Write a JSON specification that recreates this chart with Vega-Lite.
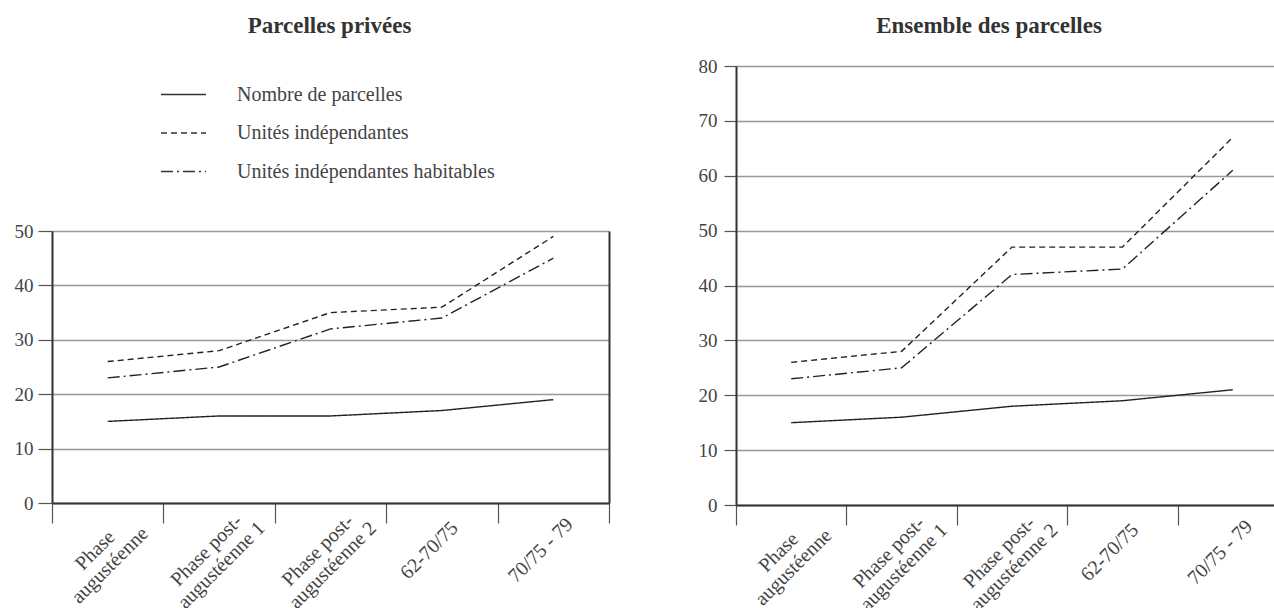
{
  "$schema": "https://vega.github.io/schema/vega-lite/v6.json",
  "padding": {"left": 14, "top": 15, "right": 0, "bottom": 0},
  "background": "white",
  "spacing": 88,
  "datasets": {
    "privees": [
      {"phase": "Phase augustéenne", "serie": "Nombre de parcelles", "value": 15},
      {"phase": "Phase post-augustéenne 1", "serie": "Nombre de parcelles", "value": 16},
      {"phase": "Phase post-augustéenne 2", "serie": "Nombre de parcelles", "value": 16},
      {"phase": "62-70/75", "serie": "Nombre de parcelles", "value": 17},
      {"phase": "70/75 - 79", "serie": "Nombre de parcelles", "value": 19},
      {"phase": "Phase augustéenne", "serie": "Unités indépendantes", "value": 26},
      {"phase": "Phase post-augustéenne 1", "serie": "Unités indépendantes", "value": 28},
      {"phase": "Phase post-augustéenne 2", "serie": "Unités indépendantes", "value": 35},
      {"phase": "62-70/75", "serie": "Unités indépendantes", "value": 36},
      {"phase": "70/75 - 79", "serie": "Unités indépendantes", "value": 49},
      {"phase": "Phase augustéenne", "serie": "Unités indépendantes habitables", "value": 23},
      {"phase": "Phase post-augustéenne 1", "serie": "Unités indépendantes habitables", "value": 25},
      {"phase": "Phase post-augustéenne 2", "serie": "Unités indépendantes habitables", "value": 32},
      {"phase": "62-70/75", "serie": "Unités indépendantes habitables", "value": 34},
      {"phase": "70/75 - 79", "serie": "Unités indépendantes habitables", "value": 45}
    ],
    "ensemble": [
      {"phase": "Phase augustéenne", "serie": "Nombre de parcelles", "value": 15},
      {"phase": "Phase post-augustéenne 1", "serie": "Nombre de parcelles", "value": 16},
      {"phase": "Phase post-augustéenne 2", "serie": "Nombre de parcelles", "value": 18},
      {"phase": "62-70/75", "serie": "Nombre de parcelles", "value": 19},
      {"phase": "70/75 - 79", "serie": "Nombre de parcelles", "value": 21},
      {"phase": "Phase augustéenne", "serie": "Unités indépendantes", "value": 26},
      {"phase": "Phase post-augustéenne 1", "serie": "Unités indépendantes", "value": 28},
      {"phase": "Phase post-augustéenne 2", "serie": "Unités indépendantes", "value": 47},
      {"phase": "62-70/75", "serie": "Unités indépendantes", "value": 47},
      {"phase": "70/75 - 79", "serie": "Unités indépendantes", "value": 67},
      {"phase": "Phase augustéenne", "serie": "Unités indépendantes habitables", "value": 23},
      {"phase": "Phase post-augustéenne 1", "serie": "Unités indépendantes habitables", "value": 25},
      {"phase": "Phase post-augustéenne 2", "serie": "Unités indépendantes habitables", "value": 42},
      {"phase": "62-70/75", "serie": "Unités indépendantes habitables", "value": 43},
      {"phase": "70/75 - 79", "serie": "Unités indépendantes habitables", "value": 61}
    ]
  },
  "config": {
    "view": {"stroke": null},
    "font": "Liberation Serif",
    "title": {"font": "Liberation Serif", "fontSize": 23, "fontWeight": "bold", "color": "#333", "anchor": "middle"},
    "axis": {
      "labelFont": "Liberation Serif",
      "labelColor": "#444",
      "title": null,
      "domainColor": "#333",
      "domainWidth": 2,
      "tickColor": "#555",
      "tickWidth": 1.2,
      "gridColor": "#999",
      "gridWidth": 1.4
    }
  },
  "resolve": {"legend": {"strokeDash": "independent"}},
  "hconcat": [
    {
      "width": 557,
      "height": 437,
      "title": {"text": "Parcelles privées", "offset": 28, "dx": -1},
      "data": {"name": "privees"},
      "resolve": {"axis": {"y": "independent"}},
      "layer": [
        {
          "mark": {"type": "line", "interpolate": "linear", "color": "#222", "strokeWidth": 1.4},
          "encoding": {
            "x": {
              "field": "phase", "type": "nominal", "bandPosition": 0.5,
              "sort": ["Phase augustéenne", "Phase post-augustéenne 1", "Phase post-augustéenne 2", "62-70/75", "70/75 - 79"],
              "scale": {"type": "band", "paddingInner": 0, "paddingOuter": 0},
              "axis": {
                "labelAngle": -45, "labelAlign": "center", "labelBaseline": "middle",
                "labelFontSize": 20, "labelLineHeight": 21,
                "tickBand": "extent", "tickSize": 20, "labelPadding": 27, "labelOffset": -13,
                "labelExpr": "datum.value == 'Phase augustéenne' ? ['Phase', 'augustéenne'] : datum.value == 'Phase post-augustéenne 1' ? ['Phase post-', 'augustéenne 1'] : datum.value == 'Phase post-augustéenne 2' ? ['Phase post-', 'augustéenne 2'] : datum.value"
              }
            },
            "y": {
              "field": "value", "type": "quantitative",
              "scale": {"domain": [0, 50], "nice": false, "range": [437, 165]},
              "axis": {"values": [0, 10, 20, 30, 40, 50], "tickSize": 14, "labelPadding": 5, "labelFontSize": 19, "grid": true}
            },
            "strokeDash": {
              "field": "serie", "type": "nominal",
              "scale": {"domain": ["Nombre de parcelles", "Unités indépendantes", "Unités indépendantes habitables"], "range": [[1, 0], [6, 4], [12, 4, 2, 4]]},
              "legend": {
                "orient": "none", "legendX": 108, "legendY": 5, "title": null,
                "symbolType": "stroke", "symbolSize": 2025, "symbolStrokeWidth": 1.3, "symbolStrokeColor": "#333",
                "labelFont": "Liberation Serif", "labelFontSize": 20, "labelColor": "#444", "labelLimit": 500,
                "labelOffset": 30, "rowPadding": 4.5
              }
            }
          }
        },
        {
          "mark": {"type": "line", "strokeOpacity": 0},
          "encoding": {
            "x": {"field": "phase", "type": "nominal", "bandPosition": 0.5,
                  "sort": ["Phase augustéenne", "Phase post-augustéenne 1", "Phase post-augustéenne 2", "62-70/75", "70/75 - 79"]},
            "y": {"field": "value", "type": "quantitative",
                  "axis": {"orient": "right", "labels": false, "ticks": false, "grid": false, "domain": true}},
            "detail": {"field": "serie"}
          }
        }
      ]
    },
    {
      "width": 552,
      "height": 439,
      "title": {"text": "Ensemble des parcelles", "offset": 19, "dx": -23},
      "data": {"name": "ensemble"},
      "mark": {"type": "line", "interpolate": "linear", "color": "#222", "strokeWidth": 1.4},
      "encoding": {
        "x": {
          "field": "phase", "type": "nominal", "bandPosition": 0.5,
          "sort": ["Phase augustéenne", "Phase post-augustéenne 1", "Phase post-augustéenne 2", "62-70/75", "70/75 - 79"],
          "scale": {"type": "band", "paddingInner": 0, "paddingOuter": 0},
          "axis": {
            "labelAngle": -45, "labelAlign": "center", "labelBaseline": "middle",
            "labelFontSize": 20, "labelLineHeight": 21,
            "tickBand": "extent", "tickSize": 20, "labelPadding": 27, "labelOffset": -13,
            "labelExpr": "datum.value == 'Phase augustéenne' ? ['Phase', 'augustéenne'] : datum.value == 'Phase post-augustéenne 1' ? ['Phase post-', 'augustéenne 1'] : datum.value == 'Phase post-augustéenne 2' ? ['Phase post-', 'augustéenne 2'] : datum.value"
          }
        },
        "y": {
          "field": "value", "type": "quantitative",
          "scale": {"domain": [0, 80], "nice": false},
          "axis": {"values": [0, 10, 20, 30, 40, 50, 60, 70, 80], "tickSize": 12, "labelPadding": 7, "labelFontSize": 19, "grid": true}
        },
        "strokeDash": {
          "field": "serie", "type": "nominal",
          "scale": {"domain": ["Nombre de parcelles", "Unités indépendantes", "Unités indépendantes habitables"], "range": [[1, 0], [6, 4], [12, 4, 2, 4]]},
          "legend": null
        }
      }
    }
  ]
}
